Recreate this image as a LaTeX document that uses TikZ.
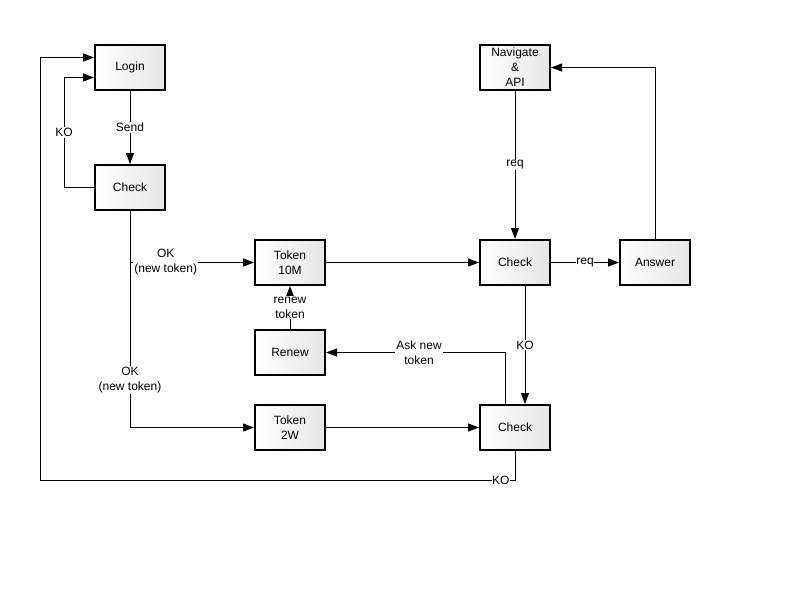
\documentclass[tikz,border=0pt]{standalone}
\usepackage{fontspec}
\setmainfont{Liberation Sans}
\usetikzlibrary{arrows.meta,calc}
\begin{document}
\begin{tikzpicture}[x=1pt,y=-1pt,
  font=\fontsize{12}{15}\selectfont,
  box/.style={draw=black,line width=2pt,minimum width=70pt,minimum height=45pt,
    inner sep=0pt,align=center,left color=white,right color=black!10},
  arr/.style={draw=black,line width=1pt,-{Triangle[length=11pt,width=8pt]}},
  ln/.style={draw=black,line width=1pt},
  lbl/.style={fill=white,inner sep=1pt,align=center,font=\fontsize{12}{15}\selectfont}]
\useasboundingbox (0,0) rectangle (800,600);
\node[box] (login) at (130,67.5) {Login};
\node[box] (chk1) at (130,187.5) {Check};
\node[box] (tok10) at (290,262.5) {Token\\10M};
\node[box] (renew) at (290,352.5) {Renew};
\node[box] (tok2) at (290,427.5) {Token\\2W};
\node[box] (nav) at (515,67.5) {Navigate\\\&\\API};
\node[box] (chk2) at (515,262.5) {Check};
\node[box] (answer) at (655,262.5) {Answer};
\node[box] (chk3) at (515,427.5) {Check};

\draw[arr] (login) -- node[lbl]{Send} (chk1);
\draw[arr] (chk1.west) -- ++(-30,0) |- node[lbl,pos=0.25]{KO} ($(login.west)+(0,10)$);
\coordinate (lowleft) at (40,480);
\draw[arr] (chk3.south) |- node[lbl,pos=0.515,inner sep=0.5pt]{KO} (lowleft) |- ($(login.west)+(0,-10)$);
\draw[arr] (chk1.south) |- node[lbl,pos=0.644]{OK\\(new token)} (tok10.west);
\draw[arr] (chk1.south) |- node[lbl,pos=0.39]{OK\\(new token)} (tok2.west);
\draw[arr] (renew) -- node[lbl]{renew\\token} (tok10);
\draw[arr] ($(chk3.north)+(-10,0)$) |- node[lbl,pos=0.74]{Ask new\\token} (renew.east);
\draw[arr] ($(chk2.south)+(10,0)$) -- node[lbl]{KO} ($(chk3.north)+(10,0)$);
\draw[arr] (nav) -- node[lbl]{req} (chk2);
\draw[arr] (chk2) -- node[lbl,inner sep=0.5pt]{req} (answer);
\draw[arr] (answer.north) |- (nav.east);
\draw[arr] (tok10) -- (chk2);
\draw[arr] (tok2) -- (chk3);
\end{tikzpicture}
\end{document}
